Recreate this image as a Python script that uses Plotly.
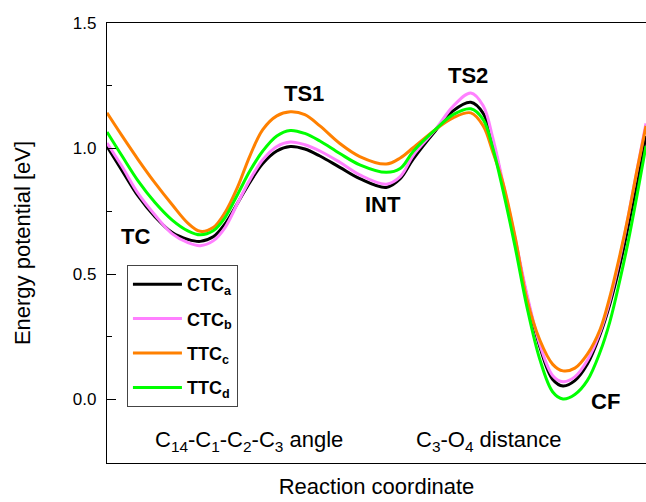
import plotly.graph_objects as go

# Reaction coordinate (arbitrary units)
x = [0.00, 0.28, 0.58, 0.89, 1.21, 1.50, 1.73, 1.97, 2.19, 2.43, 2.65, 2.89, 3.15, 3.40,
     3.67, 3.95, 4.32, 4.69, 5.18, 5.44, 5.68, 6.09, 6.42, 6.75, 6.98, 7.16, 7.35, 7.57,
     7.79, 8.03, 8.27, 8.46, 8.68, 8.91, 9.15, 9.33, 9.52, 9.67, 9.83, 10.00]

ctc_a = [1.008, 0.912, 0.810, 0.728, 0.665, 0.638, 0.630, 0.648, 0.700, 0.785, 0.865, 0.940, 0.990, 1.008,
         0.998, 0.970, 0.925, 0.880, 0.845, 0.880, 0.958, 1.070, 1.150, 1.184, 1.140, 1.025, 0.850, 0.635,
         0.410, 0.210, 0.080, 0.054, 0.075, 0.140, 0.260, 0.380, 0.540, 0.690, 0.860, 1.050]

ctc_b = [1.022, 0.928, 0.820, 0.735, 0.660, 0.625, 0.613, 0.632, 0.685, 0.785, 0.875, 0.955, 1.008, 1.026,
         1.015, 0.990, 0.945, 0.895, 0.858, 0.888, 0.972, 1.075, 1.168, 1.221, 1.170, 1.040, 0.860, 0.645,
         0.420, 0.220, 0.095, 0.071, 0.090, 0.155, 0.270, 0.395, 0.570, 0.730, 0.910, 1.100]

ttc_c = [1.142, 1.050, 0.955, 0.863, 0.776, 0.703, 0.670, 0.685, 0.745, 0.850, 0.970, 1.075, 1.130, 1.146,
         1.135, 1.090, 1.020, 0.968, 0.938, 0.962, 1.003, 1.075, 1.122, 1.142, 1.090, 0.985, 0.860, 0.650,
         0.400, 0.237, 0.140, 0.114, 0.125, 0.180, 0.280, 0.410, 0.580, 0.730, 0.910, 1.090]

ttc_d = [1.066, 0.970, 0.870, 0.785, 0.715, 0.672, 0.656, 0.672, 0.725, 0.820, 0.910, 0.990, 1.050, 1.072,
         1.060, 1.030, 0.980, 0.935, 0.905, 0.920, 0.988, 1.075, 1.135, 1.158, 1.115, 1.000, 0.830, 0.610,
         0.370, 0.160, 0.030, 0.002, 0.020, 0.075, 0.190, 0.310, 0.480, 0.630, 0.810, 1.010]

series_names = ["<b>CTC<sub>a</sub></b>", "<b>CTC<sub>b</sub></b>",
                "<b>TTC<sub>c</sub></b>", "<b>TTC<sub>d</sub></b>"]
series_values = [ctc_a, ctc_b, ttc_c, ttc_d]
series_colors = ["#000000", "#FF80FF", "#FF8000", "#00FF00"]

point_labels = ["TC", "TS1", "INT", "TS2", "CF"]
point_x = [0.52, 3.65, 5.12, 6.70, 9.24]
point_y = [0.648, 1.221, 0.776, 1.291, -0.009]

region_labels = ["C<sub>14</sub>-C<sub>1</sub>-C<sub>2</sub>-C<sub>3</sub> angle",
                 "C<sub>3</sub>-O<sub>4</sub> distance"]
region_x = [2.63, 7.09]
region_y = [-0.165, -0.165]

y_ticks = [0.0, 0.5, 1.0, 1.5]
y_ticktext = ["0.0", "0.5", "1.0", "1.5"]

FONT = "Arial, Liberation Sans, sans-serif"

fig = go.Figure()
for i, (name, vals, col) in enumerate(zip(series_names, series_values, series_colors)):
    fig.add_trace(go.Scatter(
        x=x, y=vals, mode="lines", name=name, legendgroup=f"g{i}",
        line=dict(color=col, width=3, shape="spline", smoothing=1.0),
    ))

for t, px_, py_ in zip(point_labels, point_x, point_y):
    fig.add_annotation(x=px_, y=py_, text=f"<b>{t}</b>", showarrow=False,
                       font=dict(family=FONT, size=22, color="black"),
                       xanchor="center", yanchor="middle")

for t, px_, py_ in zip(region_labels, region_x, region_y):
    fig.add_annotation(x=px_, y=py_, text=t, showarrow=False,
                       font=dict(family=FONT, size=22, color="black"),
                       xanchor="center", yanchor="middle")

fig.update_layout(
    width=646, height=502,
    margin=dict(l=107, r=0, t=23, b=39),
    paper_bgcolor="white", plot_bgcolor="white",
    font=dict(family=FONT, size=17, color="black"),
    showlegend=True,
    legend=dict(x=0.037, y=0.45, xanchor="left", yanchor="top",
                bgcolor="white", bordercolor="#444444", borderwidth=1,
                font=dict(family=FONT, size=18, color="black"),
                tracegroupgap=8, itemwidth=49),
    xaxis=dict(range=[0, 10], showline=True, linecolor="black", linewidth=1.3,
               mirror=True, showticklabels=False, ticks="", showgrid=False, zeroline=False,
               automargin=False,
               title=dict(text="Reaction coordinate", standoff=15,
                          font=dict(family=FONT, size=22, color="black"))),
    yaxis=dict(range=[-0.253, 1.5], showline=True, linecolor="black", linewidth=1.3,
               mirror=False, tickvals=y_ticks, ticktext=y_ticktext,
               ticks="inside", ticklen=9, tickwidth=1.3, tickcolor="black",
               ticklabelstandoff=6, automargin=False,
               minor=dict(dtick=0.25, ticks="inside", ticklen=5, tickwidth=1.3,
                          tickcolor="black", showgrid=False),
               showgrid=False, zeroline=False,
               title=dict(text="Energy potential [eV]", standoff=36,
                          font=dict(family=FONT, size=22, color="black"))),
)

fig.write_html(
    "out.html",
    config={"displayModeBar": False},
    post_script="document.body.style.margin='0';document.body.style.overflow='hidden';",
)
